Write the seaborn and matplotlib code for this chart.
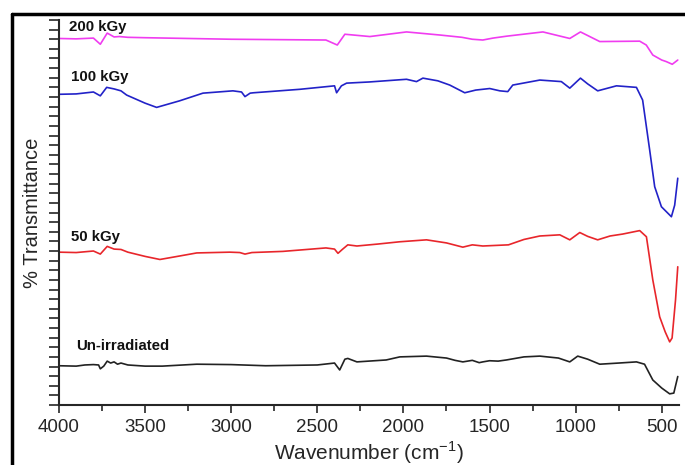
import numpy as np
import pandas as pd
import matplotlib.pyplot as plt
from matplotlib.lines import Line2D
from matplotlib.ticker import MultipleLocator
import seaborn as sns

# FTIR spectra (wavenumber, % transmittance, arbitrary offset scale)
wn_black = [4000, 3900, 3850, 3800, 3770, 3760, 3740, 3720, 3700, 3680, 3660, 3640, 3600, 3500,
            3400, 3200, 3000, 2800, 2500, 2400, 2370, 2340, 2323, 2270, 2100, 2021, 1866, 1750,
            1700, 1655, 1600, 1560, 1539, 1500, 1450, 1402, 1300, 1208, 1100, 1034, 988, 930,
            860, 750, 647, 600, 552, 500, 454, 430, 407]
t_black = [10.2, 10.1, 10.4, 10.5, 10.4, 9.4, 10.1, 11.4, 10.9, 11.2, 10.6, 10.9, 10.4, 10.1,
           10.1, 10.6, 10.5, 10.2, 10.4, 10.9, 9.1, 11.9, 12.1, 11.2, 11.7, 12.5, 12.7, 12.2,
           11.6, 11.2, 11.6, 11.0, 11.2, 11.5, 11.4, 11.7, 12.5, 12.7, 12.2, 11.2, 12.7, 11.9,
           10.6, 10.9, 11.2, 10.6, 6.5, 4.4, 2.9, 3.1, 7.4]

wn_red = [4000, 3900, 3800, 3760, 3720, 3680, 3640, 3600, 3500, 3414, 3300, 3200, 3008, 2950,
          2920, 2880, 2700, 2450, 2400, 2380, 2355, 2323, 2270, 2150, 2021, 1866, 1750, 1655,
          1600, 1539, 1390, 1300, 1208, 1092, 1034, 976, 930, 872, 800, 727, 628, 589, 552, 512,
          480, 454, 440, 420, 407]
t_red = [39.7, 39.6, 40.0, 39.2, 41.2, 40.5, 40.4, 39.7, 38.6, 37.8, 38.7, 39.5, 39.7, 39.6,
         39.2, 39.6, 39.9, 40.8, 40.5, 39.4, 40.4, 41.6, 41.3, 41.8, 42.4, 42.9, 42.1, 41.0,
         41.6, 41.3, 41.6, 43.0, 43.9, 44.2, 42.9, 44.8, 43.8, 42.9, 43.9, 44.4, 45.3, 43.7,
         32.5, 22.9, 19.0, 16.4, 17.4, 27.3, 35.9]

wn_blue = [4000, 3900, 3800, 3760, 3723, 3680, 3640, 3607, 3500, 3433, 3300, 3164, 2990, 2940,
           2920, 2890, 2870, 2601, 2400, 2388, 2360, 2330, 2200, 1982, 1924, 1887, 1800, 1731,
           1644, 1580, 1499, 1440, 1394, 1365, 1208, 1083, 1034, 972, 930, 872, 763, 647, 611,
           570, 541, 502, 444, 425, 407]
t_blue = [80.7, 80.8, 81.3, 80.3, 82.5, 82.1, 81.6, 80.5, 78.4, 77.3, 79.0, 81.0, 81.6, 81.3,
          80.1, 81.0, 81.1, 82.0, 82.9, 81.1, 82.9, 83.6, 83.9, 84.6, 84.0, 84.9, 84.2, 83.1,
          81.1, 81.8, 82.2, 81.6, 81.4, 83.1, 84.4, 84.0, 82.3, 84.9, 83.4, 81.6, 82.9, 82.5,
          79.2, 66.2, 56.7, 51.5, 48.9, 51.9, 58.9]

wn_mag = [4000, 3900, 3800, 3760, 3720, 3680, 3650, 3600, 3500, 3000, 2450, 2384, 2340, 2195,
          1982, 1789, 1660, 1600, 1539, 1480, 1400, 1190, 1034, 972, 860, 628, 590, 552, 500,
          474, 439, 407]
t_mag = [95.2, 95.1, 95.3, 93.7, 96.6, 95.6, 95.7, 95.5, 95.4, 95.0, 94.8, 93.5, 96.3, 95.7,
         96.9, 96.1, 95.5, 95.0, 94.8, 95.3, 95.8, 96.9, 95.2, 96.9, 94.4, 94.5, 93.5, 90.9, 89.6,
         89.2, 88.5, 89.6]

labels = ["Un-irradiated", "50 kGy", "100 kGy", "200 kGy"]
colors = ["#222222", "#e8262b", "#2222c8", "#f03cf0"]
series = [(wn_black, t_black), (wn_red, t_red), (wn_blue, t_blue), (wn_mag, t_mag)]
label_pos = [(3900, 15.3), (3930, 43.6), (3930, 85.3), (3942, 98.3)]

sns.set_style("ticks")
plt.rcParams['font.family'] = ['Liberation Sans', 'DejaVu Sans']

fig = plt.figure(figsize=(6.85, 4.65), dpi=100)
ax = fig.add_axes([0.0861, 0.129, 0.9051, 0.828])

for (x, y), c in zip(series, colors):
    df = pd.DataFrame({"wn": x, "t": y})
    sns.lineplot(data=df, x="wn", y="t", color=c, linewidth=1.2, sort=False, ax=ax)

for lab, (lx, ly) in zip(labels, label_pos):
    ax.text(lx, ly, lab, fontsize=10.8, fontweight="bold", color="#111111", va="center", ha="left")

ax.set_xlim(4000, 400)
ax.set_ylim(0, 100)
ax.xaxis.set_major_locator(MultipleLocator(500))
ax.xaxis.set_minor_locator(MultipleLocator(250))
ax.yaxis.set_major_locator(MultipleLocator(2.5))
ax.set_yticklabels([])
ax.tick_params(axis="x", which="major", length=6, width=1.2, labelsize=13.5, pad=4)
ax.tick_params(axis="x", which="minor", length=4, width=1.2)
ax.tick_params(axis="y", which="major", length=7, width=1.2)
ax.set_xlabel("Wavenumber (cm$^{\\mathregular{-1}}$)", fontsize=15)
ax.set_ylabel("% Transmittance", fontsize=14.5)
ax.xaxis.set_label_coords(0.5, -0.09)
ax.yaxis.set_label_coords(-0.028, 0.5)
for s in ["top", "right"]:
    ax.spines[s].set_visible(False)
for s in ["left", "bottom"]:
    ax.spines[s].set_linewidth(1.5)

# outer frame around the figure (left and top edges visible)
fig.add_artist(Line2D([0.0175, 0.0175], [0, 0.969], color="black", linewidth=2.5))
fig.add_artist(Line2D([0.0175, 1.0], [0.969, 0.969], color="black", linewidth=2.5))

fig.savefig("out.png", dpi=100)
